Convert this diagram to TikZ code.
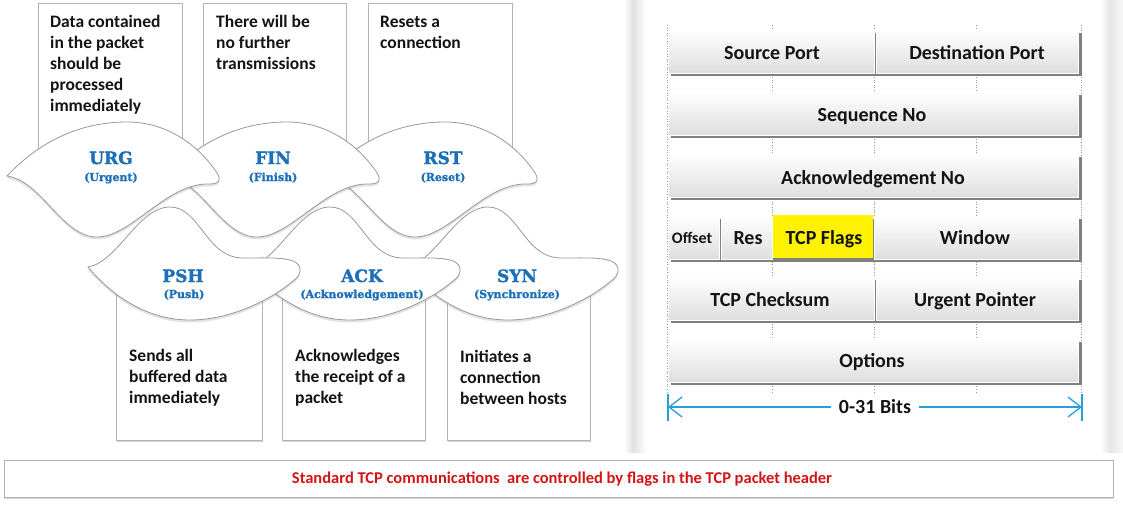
\documentclass[tikz,border=0pt]{standalone}
\usepackage{fontspec}
\setmainfont{Carlito}
\newfontfamily\slabfont{DejaVu Serif}[BoldFeatures={FakeBold=1.6}]
\usetikzlibrary{shadows,arrows.meta}
\definecolor{flagblue}{RGB}{28,112,184}
\definecolor{footred}{RGB}{210,22,22}
\definecolor{hilite}{RGB}{255,242,0}
\definecolor{bitsblue}{RGB}{38,160,218}
\definecolor{edgegray}{RGB}{180,180,180}
\tikzset{
  descbox/.style={draw=edgegray, fill=white, line width=0.8pt,
    drop shadow={shadow xshift=1pt, shadow yshift=-1.5pt, opacity=0.35}},
  wave/.style={draw=black!40, fill=white, line width=0.8pt,
    drop shadow={shadow xshift=0pt, shadow yshift=-2.5pt, opacity=0.22}},
  desctext/.style={font=\fontsize{17.5}{21}\selectfont\bfseries, align=left,
    anchor=north west, inner sep=0pt, text=black!92},
  flagname/.style={font=\slabfont\fontsize{17}{18}\selectfont\bfseries,
    text=flagblue, inner sep=0pt, anchor=base},
  flagsub/.style={font=\slabfont\fontsize{11}{12}\selectfont\bfseries,
    text=flagblue, inner sep=0pt, anchor=base},
  rowshadow/.style={fill=black!50},
  hdrcell/.style={top color=white, bottom color=black!13, draw=white, line width=0.6pt},
  flagcell/.style={fill=hilite, draw=none},
  fieldtext/.style={font=\fontsize{20}{22}\selectfont\bfseries, text=black!92,
    inner sep=0pt, anchor=base},
  gridline/.style={draw=black!40, dotted, line width=0.6pt},
  bitsline/.style={draw=bitsblue, line width=1.3pt},
  footbox/.style={draw=black!30, fill=white, line width=1pt,
    drop shadow={shadow xshift=0pt, shadow yshift=-1.5pt, opacity=0.3}},
  foottext/.style={font=\fontsize{16.5}{18}\selectfont\bfseries, text=footred, inner sep=0pt},
  topwave/.pic={\path[wave] (0,0) .. controls (30,-32) and (70,-54) .. (120,-54)
      .. controls (165,-54) and (195,-25) .. (208,-6)
      .. controls (215,3) and (213,8) .. (203,8)
      .. controls (160,6) and (125,61) .. (90,61)
      .. controls (55,61) and (35,5) .. (0,0) -- cycle;},
  botwave/.pic={\path[wave] (0,0) .. controls (30,-5) and (50,-60) .. (82,-60)
      .. controls (112,-60) and (118,-9) .. (155,-9)
      .. controls (175,-9) and (195,-10) .. (205,-6)
      .. controls (215,-2) and (214,8) .. (205,14)
      .. controls (180,35) and (140,53) .. (102,53)
      .. controls (60,53) and (25,30) .. (0,0) -- cycle;}
}
\begin{document}
\begin{tikzpicture}[x=1pt,y=-1pt]
\useasboundingbox (0,0) rectangle (1123,504);
\fill[white] (0,0) rectangle (1123,504);

% right panel side shading
\shade[left color=white, right color=black!12] (624,0) rectangle (633,452);
\shade[left color=black!12, right color=white] (633,0) rectangle (646,452);
\shade[left color=white, right color=black!10] (1100,0) rectangle (1110,452);
\shade[left color=black!10, right color=black!3] (1110,0) rectangle (1123,452);

% description boxes
\draw[descbox] (38,3) rectangle (182,170);
\draw[descbox] (203,3) rectangle (346,170);
\draw[descbox] (368,3) rectangle (512,170);
\draw[descbox] (116,275) rectangle (262,440);
\draw[descbox] (282,275) rectangle (425,440);
\draw[descbox] (447,275) rectangle (590,440);

\node[desctext] (urgtxt) at (50,15.5) {Data contained\\in the packet\\should be\\processed\\immediately};
\node[desctext] (fintxt) at (216,15.5) {There will be\\no further\\transmissions};
\node[desctext] (rsttxt) at (380,15.5) {Resets a\\connection};
\node[desctext] (pshtxt) at (129,349.5) {Sends all\\buffered data\\immediately};
\node[desctext] (acktxt) at (295,349.5) {Acknowledges\\the receipt of a\\packet};
\node[desctext] (syntxt) at (460,349.5) {Initiates a\\connection\\between hosts};

% waves: bottom row (right to left), then top row
\pic at (406,267) {botwave};
\pic at (248,267) {botwave};
\pic at (88,267) {botwave};
\pic at (325,176) {topwave};
\pic at (167,176) {topwave};
\pic at (7,176) {topwave};

\node[flagname] (urg) at (111,164) {URG};
\node[flagsub] (urgs) at (111,181) {(Urgent)};
\node[flagname] (fin) at (273,164) {FIN};
\node[flagsub] (fins) at (273,181) {(Finish)};
\node[flagname] (rst) at (443,164) {RST};
\node[flagsub] (rsts) at (443,181) {(Reset)};
\node[flagname] (psh) at (183,282) {PSH};
\node[flagsub] (pshs) at (184,298) {(Push)};
\node[flagname] (ack) at (362,282) {ACK};
\node[flagsub] (acks) at (362,298) {(Acknowledgement)};
\node[flagname] (syn) at (517,282) {SYN};
\node[flagsub] (syns) at (517,298) {(Synchronize)};

% TCP header grid
\foreach \gx in {667,772,874,976,1081}
  \draw[gridline] (\gx,25) -- (\gx,392);
\foreach \ry in {30,92,154,216,277,339}
  \fill[rowshadow] (671,\ry+3) rectangle (1081.5,\ry+46);

\draw[hdrcell] (668,30) rectangle (874,73);
\draw[hdrcell] (876,30) rectangle (1078,73);
\draw[hdrcell] (668,92) rectangle (1078,135);
\draw[hdrcell] (668,154) rectangle (1078,197);
\draw[hdrcell] (668,216) rectangle (719,259);
\draw[hdrcell] (721,216) rectangle (772,259);
\fill[flagcell] (773,215) rectangle (873,258);
\draw[hdrcell] (874,216) rectangle (1078,259);
\draw[hdrcell] (668,277) rectangle (874,320);
\draw[hdrcell] (876,277) rectangle (1078,320);
\draw[hdrcell] (668,339) rectangle (1078,382);

\node[fieldtext] (srcport) at (772,59.5) {Source Port};
\node[fieldtext] (dstport) at (977,59.5) {Destination Port};
\node[fieldtext] (seqno) at (872,121.5) {Sequence No};
\node[fieldtext] (ackno) at (873,184.5) {Acknowledgement No};
\node[fieldtext, font=\fontsize{16}{18}\selectfont\bfseries] (offset) at (692,243.5) {Offset};
\node[fieldtext] (res) at (748,244.5) {Res};
\node[fieldtext] (tcpflags) at (824,244.5) {TCP Flags};
\node[fieldtext] (window) at (975,244.5) {Window};
\node[fieldtext] (checksum) at (770,306.5) {TCP Checksum};
\node[fieldtext] (urgptr) at (975,306.5) {Urgent Pointer};
\node[fieldtext] (options) at (872,367.5) {Options};

% bit range arrow
\coordinate (barL) at (668,407);
\coordinate (barR) at (1082,407);
\coordinate (barLt) at (668,394);
\coordinate (barLb) at (668,421);
\coordinate (barRt) at (1082,394);
\coordinate (barRb) at (1082,421);
\draw[bitsline] (barLt) -- (barLb);
\draw[bitsline] (barRt) -- (barRb);
\node[font=\fontsize{20}{22}\selectfont\bfseries, text=black!92, fill=white, inner xsep=8pt, inner ysep=2pt] (bits) at (875,407) {0-31 Bits};
\draw[bitsline, -{Straight Barb[length=13pt,width=20pt]}] (bits) -- (barL);
\draw[bitsline, -{Straight Barb[length=13pt,width=20pt]}] (bits) -- (barR);

% footer
\draw[footbox] (4,460) rectangle (1113,497);
\node[foottext] (foot) at (562,479) {Standard TCP communications \ are controlled by flags in the TCP packet header};
\end{tikzpicture}
\end{document}
